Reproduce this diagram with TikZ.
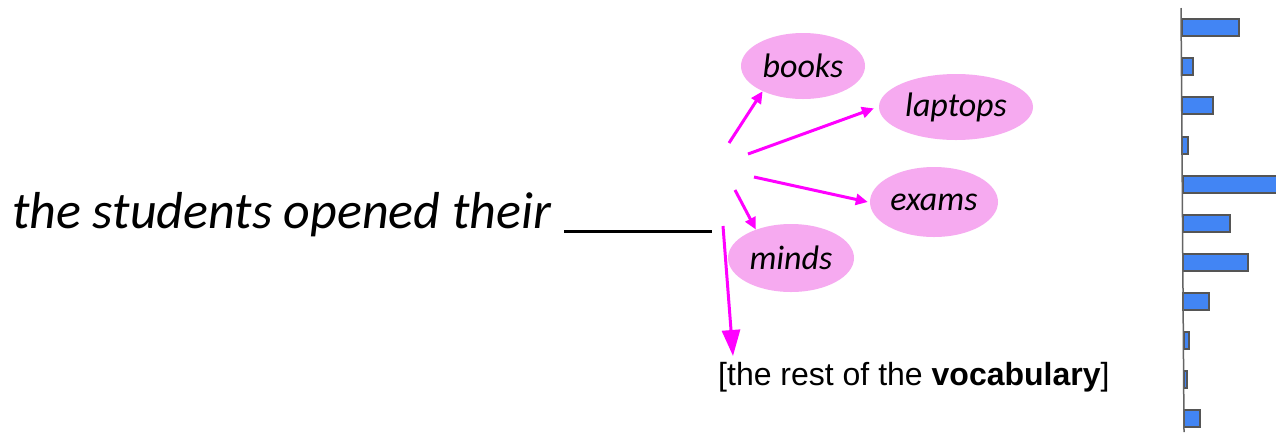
\documentclass[tikz,border=0pt]{standalone}
\usepackage{fontspec}
\setmainfont{Liberation Sans}
\newfontfamily\calib{Carlito}
\usetikzlibrary{arrows.meta,shapes.geometric}
\definecolor{petal}{RGB}{246,170,240}
\definecolor{hot}{RGB}{255,0,255}
\definecolor{barblue}{RGB}{66,133,244}
\definecolor{barline}{RGB}{85,85,85}
\definecolor{axisgrey}{RGB}{100,100,100}

\begin{document}
\begin{tikzpicture}[x=1pt,y=-1pt,
  word/.style={ellipse, fill=petal, inner sep=0pt,
    font=\calib\itshape\fontsize{34}{40}\selectfont},
  guess/.style={draw=hot, line width=3pt, -{Triangle[length=12pt,width=11pt]}},
  other/.style={draw=hot, line width=3pt, -{Triangle[length=26pt,width=18pt]}},
  bar/.style={draw=barline, fill=barblue, line width=1.5pt}]
\useasboundingbox (0,0) rectangle (1276,432);
\fill[white] (0,0) rectangle (1276,432);

% the prompt sentence with its blank
\node[anchor=base west, inner sep=0pt,
  font=\calib\itshape\fontsize{52}{60}\selectfont] (sent) at (12,228)
  {the students opened their\hspace{13pt}\raisebox{-5pt}{\rule{148pt}{3pt}}};

% candidate words
\node[word, minimum width=124pt, minimum height=66pt] (books) at (803,66) {books};
\node[word, minimum width=154pt, minimum height=66pt] (laptops) at (956,107) {laptops};
\node[word, minimum width=128pt, minimum height=70pt] (exams) at (934,202) {exams};
\node[word, minimum width=126pt, minimum height=68pt] (minds) at (791,258) {minds};

% remaining vocabulary
\node[anchor=base west, inner sep=0pt, font=\fontsize{32}{38}\selectfont] (rest) at (718,385)
  {[the rest of the \textbf{vocabulary}]};

% arrow origins
\coordinate (s1) at (729,143);
\coordinate (s2) at (748,154);
\coordinate (s3) at (754,177);
\coordinate (s4) at (735,190);
\coordinate (s5) at (723,226);
\coordinate (t5) at (733,356);

\draw[guess] (s1) -- (books.212);
\draw[guess] (s2) -- ([xshift=-5pt]laptops.181);
\draw[guess] (s3) -- ([xshift=-2pt]exams.west);
\draw[guess] (s4) -- (minds.141);
\draw[other] (s5) -- (t5);

% probability bars
\foreach \y/\x/\len in {19/1182/1239, 58/1182/1193, 97/1182/1213, 137/1182/1188,
    176/1183/1280, 215/1183/1230, 254/1183/1248, 293/1183/1209,
    332/1184/1189, 371/1184/1187, 410/1184/1200}
  \draw[bar] (\x,\y) rectangle (\len,\y+17);
\draw[axisgrey, line width=1.5pt] (1181,8) -- (1184,432);
\end{tikzpicture}
\end{document}
